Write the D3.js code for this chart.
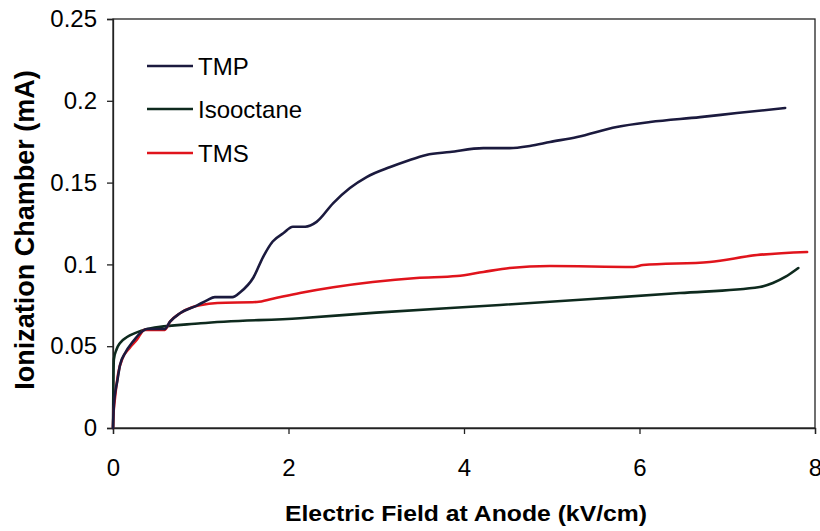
<!DOCTYPE html>
<html>
<head>
<meta charset="utf-8">
<script src="https://cdn.jsdelivr.net/npm/d3@7"></script>
<style>
  body { margin: 0; background: #fff; }
  svg { display: block; font-family: Arial, "Liberation Sans", sans-serif; }
</style>
</head>
<body>
<svg id="chart" width="820" height="531"></svg>
<script>
// Electric field at anode (kV/cm) vs ionization chamber current (mA)
const tmpX = [0, 0.01, 0.05, 0.08, 0.14, 0.23, 0.31, 0.39, 0.59, 0.65, 0.76, 0.96, 1.07, 1.16, 1.36, 1.45, 1.6, 1.71, 1.82, 1.94, 2.05, 2.19, 2.32, 2.51, 2.7, 2.89, 3.16, 3.35, 3.57, 3.84, 4.22, 4.52, 4.75, 4.98, 5.29, 5.74, 6.12, 6.69, 7.11, 7.66];
const tmpY = [0, 0.014, 0.029, 0.0385, 0.046, 0.053, 0.058, 0.0605, 0.0605, 0.065, 0.070, 0.075, 0.078, 0.080, 0.080, 0.083, 0.092, 0.1045, 0.114, 0.119, 0.123, 0.123, 0.126, 0.1375, 0.1467, 0.1534, 0.1595, 0.1632, 0.1669, 0.1687, 0.1711, 0.1711, 0.1724, 0.1748, 0.1779, 0.184, 0.187, 0.190, 0.1925, 0.1956];

const isoX = [0, 0.005, 0.01, 0.04, 0.08, 0.16, 0.25, 0.39, 1.0, 2.13, 3.0, 4.41, 5.5, 6.46, 7.37, 7.52, 7.66, 7.81];
const isoY = [0, 0.03, 0.042, 0.048, 0.052, 0.0556, 0.058, 0.0605, 0.064, 0.0671, 0.0705, 0.0752, 0.079, 0.0825, 0.0862, 0.0886, 0.0923, 0.0978];

const tmsX = [0, 0.003, 0.02, 0.06, 0.11, 0.19, 0.27, 0.36, 0.59, 0.65, 0.76, 0.91, 0.99, 1.19, 1.64, 1.82, 2.13, 2.51, 2.96, 3.46, 3.92, 4.22, 4.52, 4.98, 5.93, 6.04, 6.8, 7.34, 7.91];
const tmsY = [0, 0.006, 0.017, 0.0336, 0.0428, 0.049, 0.0538, 0.06, 0.06, 0.065, 0.070, 0.074, 0.075, 0.0764, 0.077, 0.079, 0.0825, 0.086, 0.0892, 0.0917, 0.0929, 0.0954, 0.0978, 0.099, 0.0984, 0.0996, 0.1015, 0.1057, 0.1076];

const seriesNames = ["TMP", "Isooctane", "TMS"];
const seriesColors = ["#1b1a3e", "#0e2a1e", "#e0141c"];
const xTicks = [0, 2, 4, 6, 8];
const yTicks = [0, 0.05, 0.1, 0.15, 0.2, 0.25];
const xTitle = "Electric Field at Anode (kV/cm)";
const yTitle = "Ionization Chamber (mA)";

const series = [
  { name: seriesNames[0], color: seriesColors[0], pts: d3.zip(tmpX, tmpY) },
  { name: seriesNames[1], color: seriesColors[1], pts: d3.zip(isoX, isoY) },
  { name: seriesNames[2], color: seriesColors[2], pts: d3.zip(tmsX, tmsY) }
];

const svg = d3.select("#chart");
const L = 113, R = 815, T = 19, B = 428;

const x = d3.scaleLinear().domain([0, 8]).range([L, R]);
const y = d3.scaleLinear().domain([0, 0.25]).range([B, T]);

// plot frame
svg.append("rect")
  .attr("x", L).attr("y", T).attr("width", R - L).attr("height", B - T)
  .attr("fill", "none").attr("stroke", "#222").attr("stroke-width", 1.3);

// axes
const yAxis = svg.append("g").attr("transform", `translate(${L},0)`)
  .call(d3.axisLeft(y).tickValues(yTicks).tickSize(6).tickPadding(10)
    .tickFormat(d => d === 0 ? "0" : String(+d.toFixed(2))));
const xAxis = svg.append("g").attr("transform", `translate(0,${B})`)
  .call(d3.axisBottom(x).tickValues(xTicks).tickSize(6).tickPadding(25)
    .tickFormat(d3.format("d")));
[yAxis, xAxis].forEach(g => {
  g.select(".domain").attr("stroke", "#222").attr("stroke-width", 1.3);
  g.selectAll(".tick line").attr("stroke", "#222").attr("stroke-width", 1.3);
  g.selectAll(".tick text").attr("fill", "#000").attr("font-size", 24)
    .attr("font-family", "Arial, 'Liberation Sans', sans-serif");
});

// series lines
const line = d3.line()
  .x(d => x(d[0])).y(d => y(d[1]))
  .curve(d3.curveMonotoneX);

svg.append("g").selectAll("path")
  .data([series[1], series[2], series[0]])
  .join("path")
  .attr("d", d => line(d.pts))
  .attr("fill", "none")
  .attr("stroke", d => d.color)
  .attr("stroke-width", 2.6)
  .attr("stroke-linejoin", "round")
  .attr("stroke-linecap", "round");

// legend
const legend = svg.append("g");
const legY = [66, 109, 153];
series.forEach((s, i) => {
  legend.append("line")
    .attr("x1", 147).attr("x2", 193)
    .attr("y1", legY[i]).attr("y2", legY[i])
    .attr("stroke", s.color).attr("stroke-width", 2.6);
  legend.append("text")
    .attr("x", 198).attr("y", legY[i]).attr("dy", "0.36em")
    .attr("font-size", 24).attr("fill", "#000")
    .text(s.name);
});

// axis titles
svg.append("text")
  .attr("x", 466).attr("y", 521)
  .attr("text-anchor", "middle")
  .attr("font-size", 22).attr("font-weight", "bold")
  .attr("textLength", 362).attr("lengthAdjust", "spacingAndGlyphs")
  .text(xTitle);

svg.append("text")
  .attr("transform", "translate(34,230) rotate(-90)")
  .attr("text-anchor", "middle")
  .attr("font-size", 27).attr("font-weight", "bold")
  .text(yTitle);
</script>
</body>
</html>
